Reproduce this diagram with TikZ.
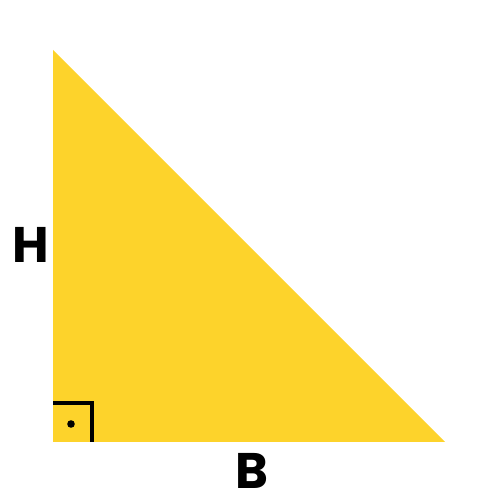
\documentclass[tikz,border=0pt]{standalone}
\usepackage{fontspec}
\setmainfont{Poppins}
\definecolor{tri}{HTML}{FDD32B}
\begin{document}
\begin{tikzpicture}[x=1pt,y=1pt,
  lbl/.style={font=\fontsize{50}{50}\selectfont\bfseries, text=black, inner sep=0pt}]
\useasboundingbox (0,0) rectangle (500,500);
\coordinate (A) at (53,450);
\coordinate (C) at (53,58);
\coordinate (D) at (445,58);
\fill[tri] (A) -- (C) -- (D) -- cycle;
\coordinate (s1) at (53,96.5);
\coordinate (s2) at (92,96.5);
\coordinate (s3) at (92,58);
\draw[line width=4pt] (s1) -- (s2) -- (s3);
\fill (71,76) circle (3.8);
\node[lbl] (H) at (31,255) {H};
\node[lbl] (B) at (252,29) {B};
\end{tikzpicture}
\end{document}
